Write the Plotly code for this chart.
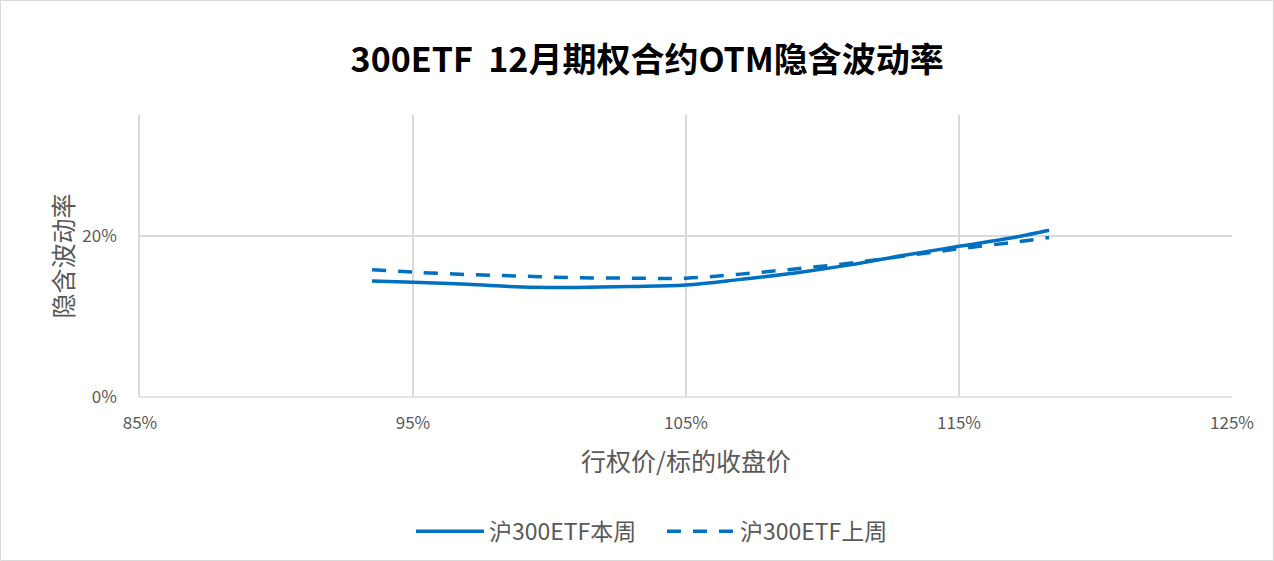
import plotly.graph_objects as go

# strike / underlying close (fraction)
moneyness = [0.935, 0.95, 0.97, 0.99, 1.01, 1.03, 1.05, 1.07, 1.09, 1.11, 1.13, 1.15, 1.17, 1.183]
iv_this_week = [0.144, 0.1425, 0.140, 0.1365, 0.136, 0.137, 0.139, 0.146, 0.154, 0.164, 0.176, 0.187, 0.198, 0.207]
iv_last_week = [0.158, 0.155, 0.152, 0.150, 0.148, 0.1475, 0.1475, 0.1525, 0.159, 0.166, 0.175, 0.184, 0.192, 0.198]

BLUE = "#0070C0"
GREY = "#595959"
GRID = "#D9D9D9"
CJK = "Noto Sans CJK SC, sans-serif"

fig = go.Figure()
fig.add_trace(go.Scatter(
    x=moneyness, y=iv_this_week, name="沪300ETF本周", mode="lines",
    line=dict(color=BLUE, width=3.5, shape="spline", smoothing=1.0),
))
fig.add_trace(go.Scatter(
    x=moneyness, y=iv_last_week, name="沪300ETF上周", mode="lines",
    line=dict(color=BLUE, width=3.5, shape="spline", smoothing=1.0, dash="14px,12px"),
))

fig.update_layout(
    width=1274, height=561,
    paper_bgcolor="white", plot_bgcolor="white",
    margin=dict(l=140, r=42, t=115, b=164),
    font=dict(family=CJK, color=GREY, size=17),
    title=dict(
        text="<b>300ETF  12月期权合约OTM隐含波动率</b>",
        x=0.508, xanchor="center", xref="container", y=0.893, yanchor="middle",
        font=dict(family=CJK, size=34, color="black"),
    ),
    xaxis=dict(
        range=[0.85, 1.25], tick0=0.85, dtick=0.1, tickformat=".0%",
        showgrid=True, gridcolor=GRID, gridwidth=1.5, zeroline=False,
        showline=False, ticks="", ticklabelstandoff=14,
        title=dict(text="行权价/标的收盘价", font=dict(size=25, color=GREY, family=CJK),
                   standoff=20),
    ),
    yaxis=dict(
        range=[0, 0.35], tick0=0, dtick=0.2, tickformat=".0%",
        showgrid=True, gridcolor=GRID, gridwidth=1.5, zeroline=False,
        showline=True, linecolor=GRID, linewidth=1.5, ticks="", ticklabelstandoff=18,
        title=dict(text="隐含波动率", font=dict(size=25, color=GREY, family=CJK),
                   standoff=2),
    ),
    legend=dict(
        orientation="h", xref="container", x=0.5196, xanchor="center",
        yref="container", y=0.053, yanchor="middle",
        font=dict(size=23, color=GREY, family=CJK),
        itemwidth=68, entrywidth=168, entrywidthmode="pixels",
    ),
    showlegend=True,
)

# x axis baseline
fig.add_shape(type="line", xref="paper", yref="paper", x0=0, x1=1, y0=0, y1=0,
              line=dict(color=GRID, width=1.5))
# outer chart border
fig.add_shape(type="rect", xref="paper", yref="paper",
              x0=-0.1277, x1=1.038, y0=-0.580, y1=1.406,
              line=dict(color=GRID, width=1))

fig.write_html(
    "out.html",
    config={"displayModeBar": False},
    post_script="document.body.style.margin='0';document.body.style.overflow='hidden';",
)
